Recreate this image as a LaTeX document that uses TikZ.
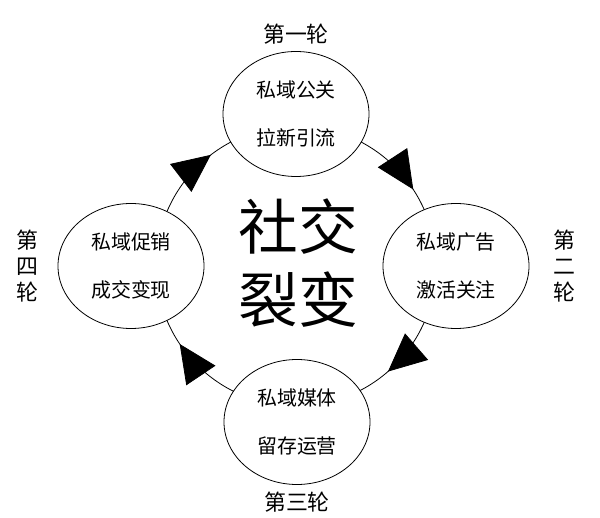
\documentclass[tikz,border=0pt]{standalone}
\usepackage{fontspec}
\newfontfamily\cjk{Noto Sans CJK SC}
\usetikzlibrary{positioning,arrows.meta,decorations.markings,shapes.geometric}
\tikzset{
    ring tip/.tip = {Triangle[length=38bp,width=35bp]},
    stage/.style = {
        draw,
        ellipse,
        inner sep=0pt,
        minimum width=146bp,
        minimum height=125bp,
        fill=white,
        line width=0.8bp,
        align=center,
        font=\cjk\fontsize{20}{48}\selectfont,
        },
    round label/.style = {
        inner sep=0pt,
        align=center,
        font=\cjk\fontsize{22}{26}\selectfont,
        },
    title/.style = {
        inner sep=0pt,
        align=center,
        font=\cjk\fontsize{60}{74}\selectfont,
        },
    ring/.style = {
        line width=0.8bp,
        postaction={decorate},
        decoration={markings,
            mark=at position 0.092 with {\arrowreversed{ring tip}},
            mark=at position 0.354 with {\arrowreversed{ring tip}},
            mark=at position 0.594 with {\arrowreversed{ring tip}},
            mark=at position 0.864 with {\arrowreversed{ring tip}},
            },
        },
}
\begin{document}
\begin{tikzpicture}[x=1bp,y=1bp]
            \useasboundingbox (0,0) rectangle (600,518);
            \coordinate (hub) at (296,252);
            \draw[ring] (hub) circle[radius=140];

            \node[title] (core) at (298,255) {社交\\裂变};

            \node[stage] (r1) at (296,404) {私域公关\\拉新引流};
            \node[stage] (r2) at (456,252) {私域广告\\激活关注};
            \node[stage] (r3) at (297,96) {私域媒体\\留存运营};
            \node[stage] (r4) at (131,252) {私域促销\\成交变现};

            \node[round label, above=7bp of r1] (l1) {第一轮};
            \node[round label, right=24bp of r2] (l2) {第\\二\\轮};
            \node[round label, below=7bp of r3] (l3) {第三轮};
            \node[round label, left=19bp of r4] (l4) {第\\四\\轮};
        \end{tikzpicture}
\end{document}
